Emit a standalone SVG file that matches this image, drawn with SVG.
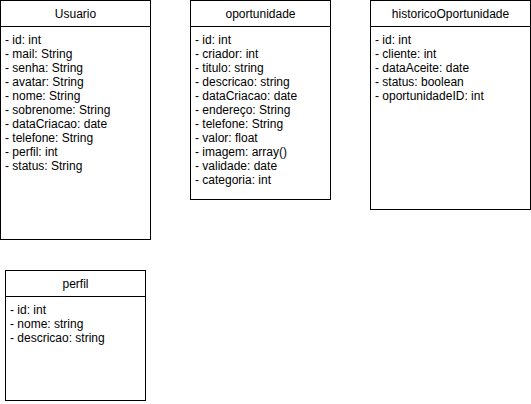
<svg xmlns="http://www.w3.org/2000/svg" width="531" height="404" viewBox="0 0 531 404">
<style>
rect{fill:#fff;stroke:#000;stroke-width:1}
line{stroke:#000;stroke-width:1}
text{font-family:"Liberation Sans",Arial,sans-serif;font-size:12px;fill:#000}
.t{text-anchor:middle}
</style>
<rect x="0" y="0" width="531" height="404" style="stroke:none"/>
<g id="Usuario">
<rect x="0.5" y="0.5" width="150" height="239"/>
<line x1="0.5" y1="26.5" x2="150.5" y2="26.5"/>
<text class="t" x="75.5" y="18">Usuario</text>
<text x="5" y="44">- id: int</text>
<text x="5" y="58">- mail: String</text>
<text x="5" y="72">- senha: String</text>
<text x="5" y="86">- avatar: String</text>
<text x="5" y="100">- nome: String</text>
<text x="5" y="114">- sobrenome: String</text>
<text x="5" y="128">- dataCriacao: date</text>
<text x="5" y="142">- telefone: String</text>
<text x="5" y="156">- perfil: int</text>
<text x="5" y="170">- status: String</text>
</g>
<g id="oportunidade">
<rect x="190.5" y="0.5" width="140" height="199"/>
<line x1="190.5" y1="26.5" x2="330.5" y2="26.5"/>
<text class="t" x="260.5" y="18">oportunidade</text>
<text x="195" y="44">- id: int</text>
<text x="195" y="58">- criador: int</text>
<text x="195" y="72">- titulo: string</text>
<text x="195" y="86">- descricao: string</text>
<text x="195" y="100">- dataCriacao: date</text>
<text x="195" y="114">- endereço: String</text>
<text x="195" y="128">- telefone: String</text>
<text x="195" y="142">- valor: float</text>
<text x="195" y="156">- imagem: array()</text>
<text x="195" y="170">- validade: date</text>
<text x="195" y="184">- categoria: int</text>
</g>
<g id="historicoOportunidade">
<rect x="370.5" y="0.5" width="160" height="209"/>
<line x1="370.5" y1="26.5" x2="530.5" y2="26.5"/>
<text class="t" x="450.5" y="18">historicoOportunidade</text>
<text x="375" y="44">- id: int</text>
<text x="375" y="58">- cliente: int</text>
<text x="375" y="72">- dataAceite: date</text>
<text x="375" y="86">- status: boolean</text>
<text x="375" y="100">- oportunidadeID: int</text>
</g>
<g id="perfil">
<rect x="5.5" y="270.5" width="140" height="130"/>
<line x1="5.5" y1="296.5" x2="145.5" y2="296.5"/>
<text class="t" x="75.5" y="288">perfil</text>
<text x="10" y="314">- id: int</text>
<text x="10" y="328">- nome: string</text>
<text x="10" y="342">- descricao: string</text>
</g>
<g id="connectors"></g>
</svg>
